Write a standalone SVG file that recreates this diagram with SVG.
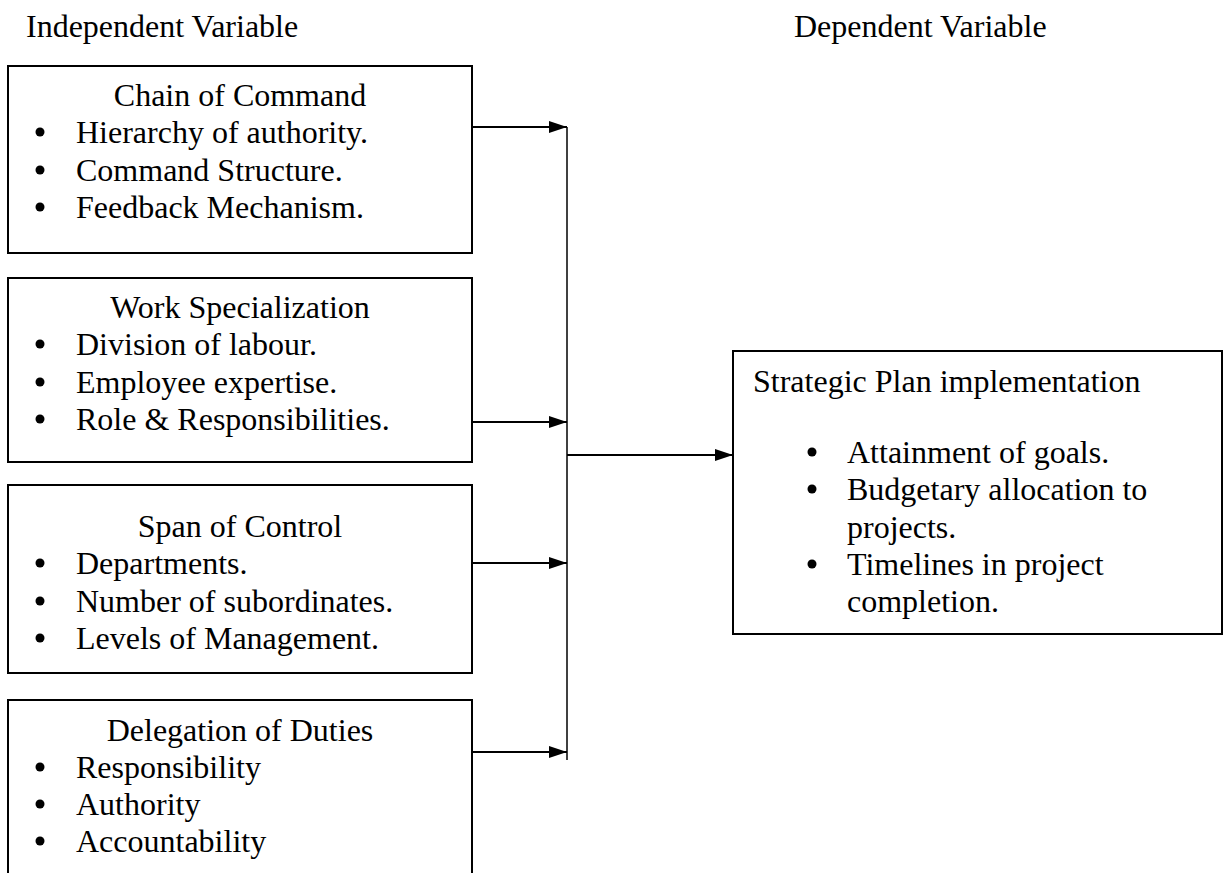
<svg xmlns="http://www.w3.org/2000/svg" width="1226" height="873" viewBox="0 0 1226 873">
<defs>
<style>
text{font-family:"Liberation Serif","Times New Roman",serif;fill:#000}
.h{font-size:32px}
.t{font-size:32px}
.c{text-anchor:middle}
.box{fill:#fff;stroke:#000;stroke-width:2}
.ln{stroke:#000;stroke-width:2;fill:none}
</style>
<marker id="ah" markerWidth="9" markerHeight="6" refX="9" refY="3" orient="auto" markerUnits="strokeWidth">
<path d="M0,0 L9,3 L0,6 Z" fill="#000"/>
</marker>
<circle id="b" r="4.5" fill="#000"/>
</defs>
<rect width="1226" height="873" fill="#fff"/>
<text class="h" x="26" y="37">Independent Variable</text>
<text class="h" x="794" y="37">Dependent Variable</text>

<g id="chain">
<rect class="box" x="8" y="66" width="464" height="187"/>
<text class="t c" x="240" y="106">Chain of Command</text>
<use href="#b" x="40" y="132"/><text class="t" x="76" y="143">Hierarchy of authority.</text>
<use href="#b" x="40" y="170"/><text class="t" x="76" y="181">Command Structure.</text>
<use href="#b" x="40" y="207"/><text class="t" x="76" y="218">Feedback Mechanism.</text>
</g>

<g id="work">
<rect class="box" x="8" y="278" width="464" height="184"/>
<text class="t c" x="240" y="318">Work Specialization</text>
<use href="#b" x="40" y="344"/><text class="t" x="76" y="355">Division of labour.</text>
<use href="#b" x="40" y="382"/><text class="t" x="76" y="393">Employee expertise.</text>
<use href="#b" x="40" y="419"/><text class="t" x="76" y="430">Role &amp; Responsibilities.</text>
</g>

<g id="span">
<rect class="box" x="8" y="485" width="464" height="188"/>
<text class="t c" x="240" y="537">Span of Control</text>
<use href="#b" x="40" y="563"/><text class="t" x="76" y="574">Departments.</text>
<use href="#b" x="40" y="601"/><text class="t" x="76" y="612">Number of subordinates.</text>
<use href="#b" x="40" y="638"/><text class="t" x="76" y="649">Levels of Management.</text>
</g>

<g id="delegation">
<path class="box" d="M8,880 L8,700 L472,700 L472,880"/>
<text class="t c" x="240" y="741">Delegation of Duties</text>
<use href="#b" x="40" y="767"/><text class="t" x="76" y="778">Responsibility</text>
<use href="#b" x="40" y="804"/><text class="t" x="76" y="815">Authority</text>
<use href="#b" x="40" y="841"/><text class="t" x="76" y="852">Accountability</text>
</g>

<g id="strategic">
<rect class="box" x="733" y="351" width="489" height="283"/>
<text class="t" x="753" y="392">Strategic Plan implementation</text>
<use href="#b" x="812" y="452"/><text class="t" x="847" y="463">Attainment of goals.</text>
<use href="#b" x="812" y="489"/><text class="t" x="847" y="500">Budgetary allocation to</text>
<text class="t" x="847" y="538">projects.</text>
<use href="#b" x="812" y="564"/><text class="t" x="847" y="575">Timelines in project</text>
<text class="t" x="847" y="612">completion.</text>
</g>

<g id="connectors">
<line x1="567" y1="127" x2="567" y2="760" stroke="#000" stroke-width="1.5"/>
<line class="ln" x1="472" y1="127" x2="567" y2="127" marker-end="url(#ah)"/>
<line class="ln" x1="472" y1="422" x2="567" y2="422" marker-end="url(#ah)"/>
<line class="ln" x1="472" y1="563" x2="567" y2="563" marker-end="url(#ah)"/>
<line class="ln" x1="472" y1="752" x2="567" y2="752" marker-end="url(#ah)"/>
<line class="ln" x1="567" y1="455" x2="733" y2="455" marker-end="url(#ah)"/>
</g>
</svg>
